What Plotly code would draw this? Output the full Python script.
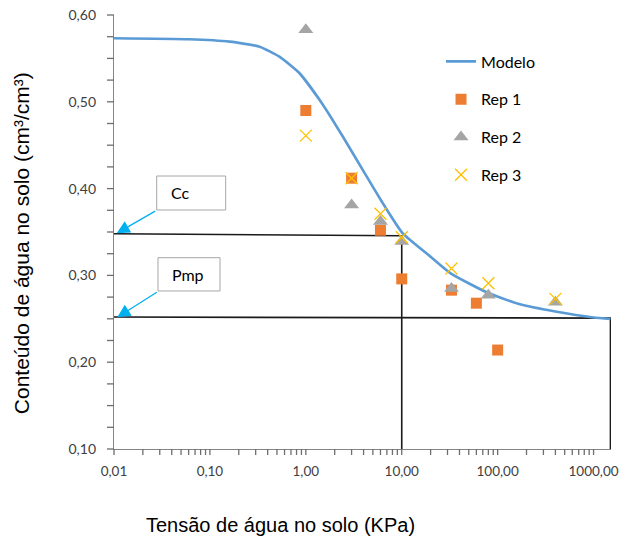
import math
import plotly.graph_objects as go

# ---------------- data ----------------
tension_rep1 = [1, 3, 6, 10, 33, 60, 100]
theta_rep1 = [0.490, 0.412, 0.352, 0.296, 0.283, 0.268, 0.214]

tension_rep2 = [1, 3, 6, 10, 33, 80, 400]
theta_rep2 = [0.583, 0.381, 0.362, 0.339, 0.285, 0.277, 0.269]

tension_rep3 = [1, 3, 6, 10, 33, 80, 400]
theta_rep3 = [0.461, 0.412, 0.371, 0.344, 0.308, 0.291, 0.273]

model_tension = [0.01, 0.06, 0.16, 0.33, 0.53, 0.86, 1.5, 2.43, 3.92,
                 6.34, 10.2, 20, 32.7, 78.7, 168, 399, 1000, 1500]
model_theta = [0.5732, 0.5720, 0.5693, 0.5635, 0.5520, 0.5329, 0.4970,
               0.4600, 0.4215, 0.3832, 0.3487, 0.3215, 0.3020, 0.2800,
               0.2670, 0.2584, 0.2515, 0.2497]

# Cc (field capacity) and Pmp (wilting point) reference lines
cc_line_tension = [0.01, 10, 10]
cc_line_theta = [0.3479, 0.3456, 0.10]
pmp_line_tension = [0.01, 1500, 1500]
pmp_line_theta = [0.2520, 0.2508, 0.10]

x_tickvals = [0.01, 0.1, 1, 10, 100, 1000]
x_ticktext = ["0,01", "0,10", "1,00", "10,00", "100,00", "1000,00"]
y_tickvals = [0.10, 0.20, 0.30, 0.40, 0.50, 0.60]
y_ticktext = ["0,10", "0,20", "0,30", "0,40", "0,50", "0,60"]

x_min, x_max = 0.01, 1520
y_min, y_max = 0.10, 0.60

# tick-mark positions (axis decoration only)
x_tick_marks = [d * 10.0 ** k for k in range(-2, 3) for d in range(1, 10)] + [1000]
y_tick_marks = [round(0.1 + 0.025 * i, 3) for i in range(21)]

# ---------------- figure ----------------
FONT = "Lato"
AXIS_GREY = "#868686"
TICK_GREY = "#6E6E6E"
PLOT_W, PLOT_H = 497, 434  # plot-area size in pixels

fig = go.Figure()

fig.add_trace(go.Scatter(x=cc_line_tension, y=cc_line_theta, mode="lines",
                         line=dict(color="#1A1A1A", width=1.6),
                         showlegend=False, hoverinfo="skip"))
fig.add_trace(go.Scatter(x=pmp_line_tension, y=pmp_line_theta, mode="lines",
                         line=dict(color="#1A1A1A", width=1.6),
                         showlegend=False, hoverinfo="skip"))

fig.add_trace(go.Scatter(x=model_tension, y=model_theta, mode="lines",
                         name="Modelo", legendgroup="g0",
                         line=dict(color="#5B9BD5", width=2.6, shape="spline", smoothing=0.5)))
fig.add_trace(go.Scatter(x=tension_rep1, y=theta_rep1, mode="markers",
                         name="Rep 1", legendgroup="g1",
                         marker=dict(symbol="square", size=11, color="#ED7D31")))
fig.add_trace(go.Scatter(x=tension_rep2, y=theta_rep2, mode="markers",
                         name="Rep 2", legendgroup="g2",
                         marker=dict(symbol="triangle-up", size=13, color="#A5A5A5")))
fig.add_trace(go.Scatter(x=tension_rep3, y=theta_rep3, mode="markers",
                         name="Rep 3", legendgroup="g3",
                         marker=dict(symbol="x-thin", size=12, color="#FFC000",
                                     line=dict(color="#FFC000", width=1.3))))

fig.update_layout(
    xaxis=dict(type="log", range=[math.log10(x_min), math.log10(x_max)],
               tickmode="array", tickvals=x_tickvals, ticktext=x_ticktext,
               ticks="", showline=True, linecolor=AXIS_GREY, linewidth=1.3,
               showgrid=False, zeroline=False, ticklabelstandoff=10,
               automargin=False, ticklabeloverflow="allow",
               tickfont=dict(family=FONT, size=13.5, color="#404040")),
    yaxis=dict(range=[y_min, y_max],
               tickmode="array", tickvals=y_tickvals, ticktext=y_ticktext,
               ticks="", showline=True, linecolor=AXIS_GREY, linewidth=1.3,
               showgrid=False, zeroline=False, ticklabelstandoff=14,
               automargin=False, ticklabeloverflow="allow",
               tickfont=dict(family=FONT, size=14, color="#404040")),
)

shapes = []
# tick marks drawn as short line segments on the axes (paper coordinates)
log_span = math.log10(x_max) - math.log10(x_min)
for v in x_tick_marks:
    xp = (math.log10(v) - math.log10(x_min)) / log_span
    shapes.append(dict(type="line", xref="paper", yref="paper",
                       x0=xp, x1=xp, y0=0, y1=-6 / PLOT_H,
                       line=dict(color=TICK_GREY, width=1.3)))
for v in y_tick_marks:
    yp = (v - y_min) / (y_max - y_min)
    shapes.append(dict(type="line", xref="paper", yref="paper",
                       x0=0, x1=-7 / PLOT_W, y0=yp, y1=yp,
                       line=dict(color=TICK_GREY, width=1.3)))

# text boxes for Cc and Pmp
box_style = dict(type="rect", xref="paper", yref="paper",
                 line=dict(color="#A6A6A6", width=1), fillcolor="white", layer="above")
shapes += [
    dict(x0=0.0859, x1=0.2247, y0=0.5507, y1=0.6290, **box_style),
    dict(x0=0.0885, x1=0.2133, y0=0.3641, y1=0.4408, **box_style),
]

annotations = [
    dict(text="Cc", xref="paper", yref="paper", x=0.1107, y=0.5899,
         xanchor="left", yanchor="middle", showarrow=False,
         font=dict(family=FONT, size=16, color="#000000")),
    dict(text="Pmp", xref="paper", yref="paper", x=0.1127, y=0.4025,
         xanchor="left", yanchor="middle", showarrow=False,
         font=dict(family=FONT, size=16, color="#000000")),
    # arrows
    dict(text="", xref="paper", yref="paper", x=0.0054, y=0.4970,
         ax=40, ay=-23, axref="pixel", ayref="pixel", showarrow=True,
         arrowhead=2, arrowsize=2.0, arrowwidth=1.3, arrowcolor="#00B0F0"),
    dict(text="", xref="paper", yref="paper", x=0.0066, y=0.3035,
         ax=41, ay=-26, axref="pixel", ayref="pixel", showarrow=True,
         arrowhead=2, arrowsize=2.0, arrowwidth=1.3, arrowcolor="#00B0F0"),
    # axis titles
    dict(text="Tensão de água no solo (KPa)", xref="paper", yref="paper",
         x=0.336, y=-0.176, xanchor="center", yanchor="middle", showarrow=False,
         font=dict(family="Liberation Sans", size=20, color="#000000")),
    dict(text="Conteúdo de água no solo (cm³/cm³)", xref="paper", yref="paper",
         x=-0.1857, y=0.4735, xanchor="center", yanchor="middle", showarrow=False,
         textangle=-90,
         font=dict(family="Liberation Sans", size=21, color="#000000")),
]

fig.update_layout(
    width=620, height=536,
    margin=dict(l=114, r=9, t=15, b=87, autoexpand=False),
    paper_bgcolor="white", plot_bgcolor="white",
    shapes=shapes, annotations=annotations,
    showlegend=True,
    legend=dict(x=0.658, y=0.932, xanchor="left", yanchor="top",
                bgcolor="rgba(0,0,0,0)", traceorder="grouped", tracegroupgap=14,
                font=dict(family=FONT, size=16, color="#000000")),
)

fig.write_html(
    "out.html",
    config={"displayModeBar": False},
    post_script="document.body.style.margin='0px';document.body.style.overflow='hidden';",
)
